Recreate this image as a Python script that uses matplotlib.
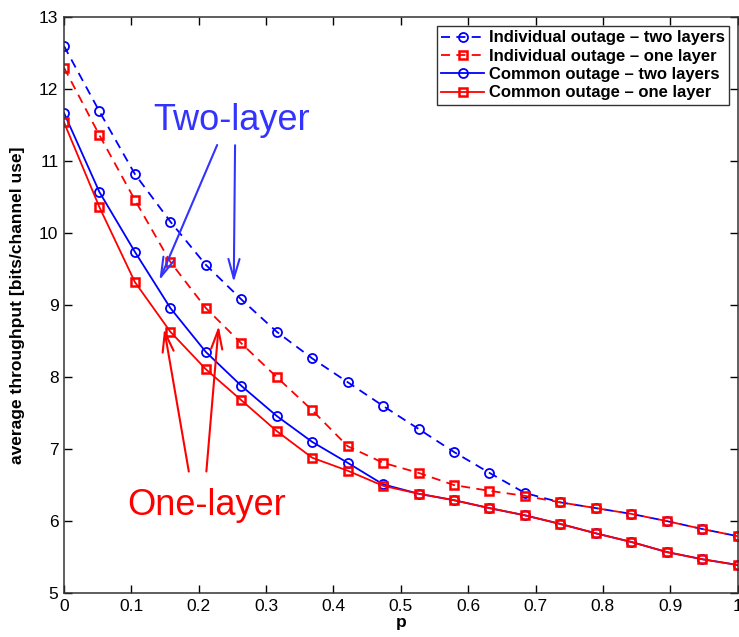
import numpy as np
import matplotlib.pyplot as plt

plt.rcParams['font.family'] = ['Liberation Sans', 'DejaVu Sans']

# outage probability grid (20 points between 0 and 1)
p = np.linspace(0, 1, 20)

ind_two = [12.60, 11.69, 10.82, 10.16, 9.56, 9.08, 8.63, 8.26, 7.93, 7.60,
           7.28, 6.96, 6.67, 6.39, 6.26, 6.18, 6.10, 6.00, 5.89, 5.79]
ind_one = [12.30, 11.36, 10.46, 9.60, 8.96, 8.47, 8.00, 7.54, 7.04, 6.81,
           6.67, 6.50, 6.42, 6.35, 6.26, 6.18, 6.10, 6.00, 5.89, 5.79]
com_two = [11.67, 10.57, 9.74, 8.96, 8.35, 7.88, 7.46, 7.10, 6.81, 6.51,
           6.38, 6.29, 6.18, 6.08, 5.96, 5.83, 5.71, 5.57, 5.47, 5.39]
com_one = [11.54, 10.36, 9.32, 8.63, 8.11, 7.68, 7.25, 6.88, 6.70, 6.49,
           6.38, 6.29, 6.18, 6.08, 5.96, 5.83, 5.71, 5.57, 5.47, 5.39]

labels = ['Individual outage \u2013 two layers', 'Individual outage \u2013 one layer',
          'Common outage \u2013 two layers', 'Common outage \u2013 one layer']

fig = plt.figure(figsize=(7.39, 6.37), dpi=100)
ax = fig.add_axes([0.0866, 0.069, 0.9115, 0.904])

lw = 1.3
dash = (5, 3.5)
ax.plot(p, ind_two, '--o', color='#0000ff', lw=lw, ms=6.5, mfc='none', mew=1.3,
        dashes=dash, label=labels[0])
ax.plot(p, ind_one, '--s', color='#ff0000', lw=lw, ms=5.6, mfc='none', mew=1.8,
        dashes=dash, label=labels[1])
ax.plot(p, com_two, '-o', color='#0000ff', lw=lw, ms=6.5, mfc='none', mew=1.3, label=labels[2])
ax.plot(p, com_one, '-s', color='#ff0000', lw=lw, ms=5.6, mfc='none', mew=1.8, label=labels[3])

ax.set_xlim(0, 1)
ax.set_ylim(5, 13)
ax.set_xticks(np.arange(0, 1.01, 0.1))
ax.set_xticklabels(['0', '0.1', '0.2', '0.3', '0.4', '0.5', '0.6', '0.7', '0.8', '0.9', '1'])
ax.set_yticks(range(5, 14))
ax.tick_params(direction='in', top=True, right=True, labelsize=12.5, length=6, width=1, pad=4)
for s in ax.spines.values():
    s.set_linewidth(1.1)
    s.set_color('#333333')

ax.set_xlabel('p', fontsize=12.5, fontweight='bold', labelpad=1)
ax.set_ylabel('average throughput [bits/channel use]', fontsize=12.5, fontweight='bold', labelpad=10)

leg = ax.legend(loc='upper right', prop={'weight': 'bold', 'size': 12}, fancybox=False,
                framealpha=1, edgecolor='#333333', handlelength=2.6, borderpad=0.25,
                labelspacing=0.2, handletextpad=0.3, borderaxespad=0.3,
                bbox_to_anchor=(0.995, 0.993))
leg.get_frame().set_linewidth(1.0)

blue = '#3333ff'
red = '#ff0000'
arr_b = dict(arrowstyle='->,head_length=1.4,head_width=0.4', color=blue, lw=1.5)
arr_r = dict(arrowstyle='->,head_length=1.4,head_width=0.4', color=red, lw=1.5)

ax.text(0.249, 11.57, 'Two-layer', color=blue, fontsize=26, ha='center', va='center')
ax.annotate('', xy=(0.140, 9.31), xytext=(0.229, 11.26), arrowprops=arr_b)
ax.annotate('', xy=(0.252, 9.28), xytext=(0.254, 11.26), arrowprops=arr_b)

ax.text(0.212, 6.22, 'One-layer', color=red, fontsize=26, ha='center', va='center')
ax.annotate('', xy=(0.148, 8.71), xytext=(0.186, 6.65), arrowprops=arr_r)
ax.annotate('', xy=(0.230, 8.75), xytext=(0.211, 6.65), arrowprops=arr_r)

fig.savefig('out.png', dpi=100)
